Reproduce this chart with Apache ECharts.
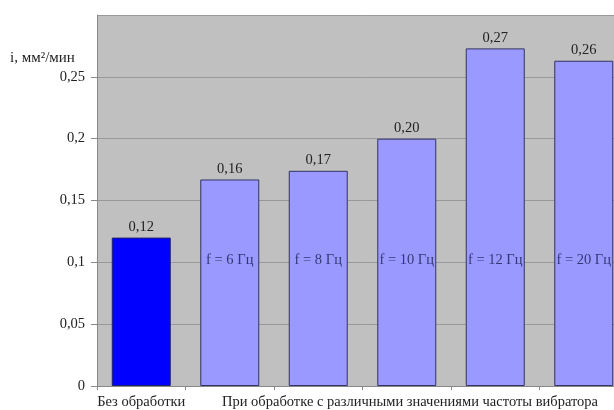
<!DOCTYPE html>
<html>
<head>
<meta charset="utf-8">
<script src="https://cdn.jsdelivr.net/npm/echarts@6/dist/echarts.min.js"></script>
<style>html,body{margin:0;padding:0;background:#fff;overflow:hidden;width:614px;height:410px;}#c{width:630px;height:410px;}</style>
</head>
<body>
<div id="c"></div>
<script>
var categories = ['Без обработки', 'f = 6 Гц', 'f = 8 Гц', 'f = 10 Гц', 'f = 12 Гц', 'f = 20 Гц'];
var values = [0.12, 0.167, 0.174, 0.2, 0.273, 0.263];
var valueLabels = ['0,12', '0,16', '0,17', '0,20', '0,27', '0,26'];
var innerLabels = ['', 'f = 6 Гц', 'f = 8 Гц', 'f = 10 Гц', 'f = 12 Гц', 'f = 20 Гц'];
var innerLabelLevel = [null, 0.102, 0.102, 0.102, 0.102, 0.102];
var axisLabels = ['Без обработки', '', '', '', '', ''];
var groupLabel = 'При обработке с различными значениями частоты вибратора';
var yTitle = 'i, мм²/мин';

var font = 'Liberation Serif';
var fs = 14.5;
var chart = echarts.init(document.getElementById('c'));
chart.setOption({
  animation: false,
  backgroundColor: '#ffffff',
  grid: { left: 97, top: 15, right: 2, bottom: 24, show: true, backgroundColor: '#c0c0c0', borderWidth: 0 },
  xAxis: {
    type: 'category',
    data: categories,
    axisLine: { lineStyle: { color: '#888888', width: 1 } },
    axisTick: { show: true, length: 4, lineStyle: { color: '#888888' } },
    axisLabel: {
      interval: 0,
      margin: 9,
      fontFamily: font, fontSize: fs, color: '#222',
      formatter: function (v, i) { return axisLabels[i]; }
    },
    splitLine: { show: false }
  },
  yAxis: {
    type: 'value',
    min: 0, max: 0.3, interval: 0.05,
    axisLine: { show: true, lineStyle: { color: '#888888' } },
    axisTick: { show: true, length: 6, lineStyle: { color: '#888888' } },
    axisLabel: {
      showMaxLabel: false,
      fontFamily: font, fontSize: fs, color: '#222', margin: 12,
      formatter: function (v) { return String(+v.toFixed(2)).replace('.', ','); }
    },
    splitLine: { show: true, lineStyle: { color: '#999999', width: 1 } }
  },
  graphic: [
    { type: 'text', left: 10, top: 51, style: { text: yTitle, font: '15px "Liberation Serif"', fill: '#222' } },
    { type: 'text', left: 222, top: 395, style: { text: groupLabel, font: fs + 'px "Liberation Serif"', fill: '#222' } }
  ],
  series: [
    {
      type: 'bar',
      barWidth: 59,
      data: values.map(function (v, i) {
        return {
          value: v,
          itemStyle: i === 0 ? { color: '#0000ff', borderColor: '#222266', borderWidth: 1 }
                             : { color: '#9999ff', borderColor: '#333366', borderWidth: 1 }
        };
      }),
      label: {
        show: true, position: 'top', distance: 3,
        fontFamily: font, fontSize: fs, color: '#222',
        formatter: function (p) { return valueLabels[p.dataIndex]; }
      }
    },
    {
      type: 'scatter',
      symbolSize: 0,
      silent: true,
      data: innerLabelLevel,
      label: {
        show: true, position: 'inside',
        fontFamily: font, fontSize: fs, color: '#1c1c50',
        formatter: function (p) { return innerLabels[p.dataIndex]; }
      }
    }
  ]
});
</script>
</body>
</html>
